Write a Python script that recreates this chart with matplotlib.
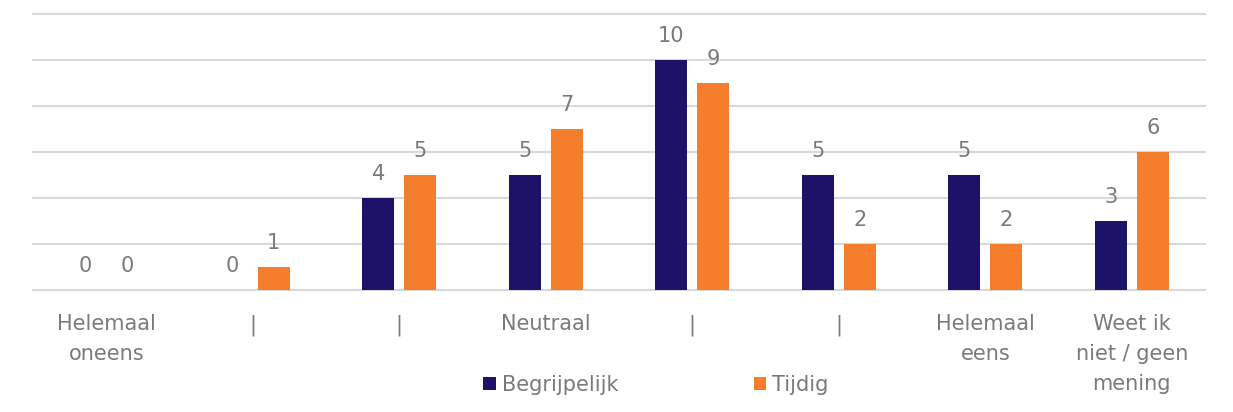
import matplotlib

matplotlib.use("Agg")
import matplotlib.pyplot as plt
import numpy as np

# antwoordcategorieen en aantallen per vraag
categories = ["Helemaal\noneens", "|", "|", "Neutraal", "|", "|",
              "Helemaal\neens", "Weet ik\nniet / geen\nmening"]
begrijpelijk = [0, 0, 4, 5, 10, 5, 5, 3]
tijdig = [0, 1, 5, 7, 9, 2, 2, 6]

NAVY = "#1c1368"
ORANGE = "#f47e2b"
GREY = "#7a7a7a"

plt.rcParams["font.family"] = ["DejaVu Sans"]

fig = plt.figure(figsize=(12.33, 4.12), dpi=100)
ax = fig.add_axes([0.0268, 0.296, 0.9505, 0.670])

x = np.arange(len(categories))
w = 0.22
off = 0.143
b1 = ax.bar(x - off, begrijpelijk, w, color=NAVY, label="Begrijpelijk", zorder=3)
b2 = ax.bar(x + off, tijdig, w, color=ORANGE, label="Tijdig", zorder=3)

for bars in (b1, b2):
    for rect in bars:
        h = rect.get_height()
        ax.annotate(f"{h:g}", (rect.get_x() + rect.get_width() / 2, h),
                    xytext=(0, 10), textcoords="offset points",
                    ha="center", va="bottom", fontsize=15, color=GREY)

ax.set_xlim(-0.5, len(categories) - 0.5)
ax.set_ylim(0, 12)
ax.set_yticks(np.arange(0, 13, 2))
ax.yaxis.grid(True, color="#d9d9d9", lw=1.5, zorder=0)
for gl in ax.get_ygridlines():
    gl.set_clip_on(False)
ax.tick_params(axis="y", left=False, labelleft=False)
ax.tick_params(axis="x", bottom=False, pad=14)
ax.set_xticks(x)
ax.set_xticklabels(categories, fontsize=15, color=GREY, linespacing=1.6)
for s in ax.spines.values():
    s.set_visible(False)

fig.legend(handles=[b1, b2], loc="center", bbox_to_anchor=(0.532, 0.066),
           ncol=2, frameon=False, fontsize=15, labelcolor=GREY,
           handlelength=0.6, handleheight=0.6, handletextpad=0.3,
           columnspacing=6.5)

fig.savefig("out.png", dpi=100)
